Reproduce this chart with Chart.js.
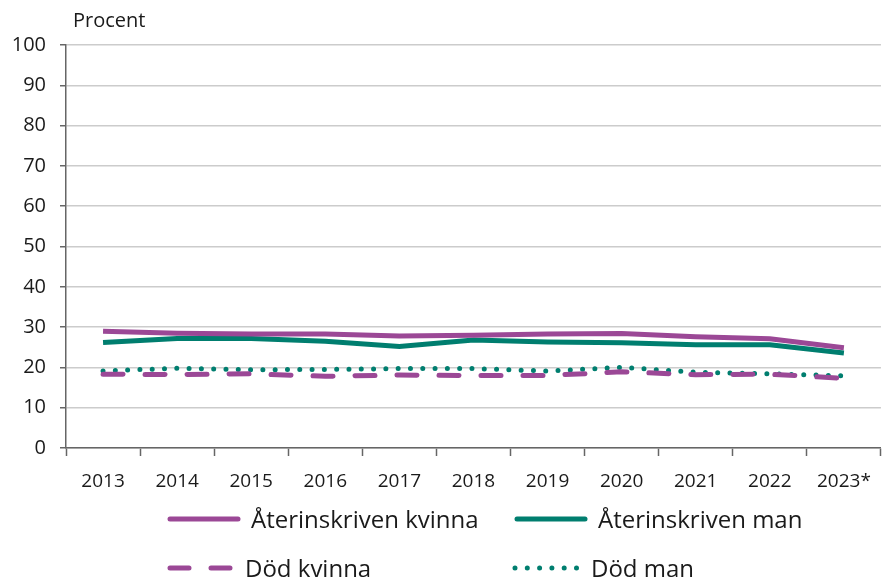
<!DOCTYPE html>
<html>
<head>
<meta charset="utf-8">
<script src="https://cdn.jsdelivr.net/npm/chart.js@4"></script>
<style>
  body { margin: 0; background: #fff; }
  #wrap { width: 885px; height: 582px; position: relative; }
</style>
</head>
<body>
<div id="wrap"><canvas id="chart"></canvas></div>
<script>
const years = ['2013', '2014', '2015', '2016', '2017', '2018', '2019', '2020', '2021', '2022', '2023*'];
const aterKvinna = [29.0, 28.5, 28.3, 28.3, 27.8, 28.0, 28.3, 28.4, 27.6, 27.1, 24.9];
const aterMan = [26.2, 27.2, 27.2, 26.5, 25.2, 26.8, 26.3, 26.1, 25.6, 25.6, 23.6];
const dodKvinna = [18.3, 18.2, 18.4, 17.8, 18.1, 18.0, 18.0, 18.9, 18.2, 18.3, 17.3];
const dodMan = [19.1, 19.8, 19.4, 19.5, 19.7, 19.7, 19.1, 20.0, 18.8, 18.4, 17.9];
const yTicks = [0, 10, 20, 30, 40, 50, 60, 70, 80, 90, 100];

const purple = '#9b4896';
const green = '#007e6f';
const font = "'Open Sans', sans-serif";

// legend drawn inside the canvas, 2 x 2
const legendPlugin = {
    id: 'gridLegend',
    afterDraw(chart) {
        const c = chart.ctx;
        const cols = [170, 517];
        const rows = [519, 568];
        const textX = [[251, 598], [245, 591]];
        chart.data.datasets.forEach((ds, i) => {
            const col = i % 2;
            const row = Math.floor(i / 2);
            const x = cols[col];
            const y = rows[row];
            c.save();
            c.strokeStyle = ds.borderColor;
            c.lineWidth = ds.borderWidth;
            c.lineCap = 'round';
            c.beginPath();
            if (ds.borderDash && ds.borderDash[0] === 0) {
                c.setLineDash([0, 12.3]);
                c.moveTo(x - 2, y);
                c.lineTo(x + 62, y);
            } else if (ds.borderDash) {
                c.setLineDash([19, 22]);
                c.moveTo(x, y);
                c.lineTo(x + 62, y);
            } else {
                c.moveTo(x, y);
                c.lineTo(x + 68, y);
            }
            c.stroke();
            c.restore();
            c.save();
            c.fillStyle = '#1a1a1a';
            c.font = '24px ' + font;
            c.textBaseline = 'middle';
            c.fillText(ds.label, textX[row][col], y + 2);
            c.restore();
        });
        c.save();
        c.fillStyle = '#1a1a1a';
        c.font = '20px ' + font;
        c.textBaseline = 'middle';
        c.fillText('Procent', 73, 21);
        c.restore();
    }
};

new Chart(document.getElementById('chart'), {
    type: 'line',
    data: {
        labels: years,
        datasets: [
            { label: 'Återinskriven kvinna', data: aterKvinna, borderColor: purple, borderWidth: 5 },
            { label: 'Återinskriven man', data: aterMan, borderColor: green, borderWidth: 5 },
            { label: 'Död kvinna', data: dodKvinna, borderColor: purple, borderWidth: 5, borderDash: [20, 22], borderCapStyle: 'round' },
            { label: 'Död man', data: dodMan, borderColor: green, borderWidth: 5, borderDash: [0, 12.3], borderCapStyle: 'round' }
        ]
    },
    options: {
        responsive: true,
        maintainAspectRatio: false,
        animation: false,
        layout: { padding: { left: 0, right: 3, top: 45, bottom: 94 } },
        elements: { point: { radius: 0 }, line: { tension: 0 } },
        plugins: { legend: { display: false }, tooltip: { enabled: false } },
        scales: {
            x: {
                offset: true,
                grid: { display: true, offset: true, drawOnChartArea: false, color: '#666', tickLength: 8, tickWidth: 1.5 },
                border: { color: '#666', width: 1.5 },
                ticks: { color: '#1a1a1a', font: { family: font, size: 19 }, padding: 14, maxRotation: 0 },
                afterFit(scale) { scale.height = 40; }
            },
            y: {
                min: 0,
                max: 100,
                afterBuildTicks(scale) { scale.ticks = yTicks.map(v => ({ value: v })); },
                grid: { color: '#cccccc', lineWidth: 1.5, tickLength: 6, tickColor: '#666' },
                border: { color: '#666', width: 1.5 },
                ticks: { color: '#1a1a1a', font: { family: font, size: 20 }, padding: 14 },
                afterFit(scale) { scale.width = 66; }
            }
        }
    },
    plugins: [legendPlugin]
});
</script>
</body>
</html>
